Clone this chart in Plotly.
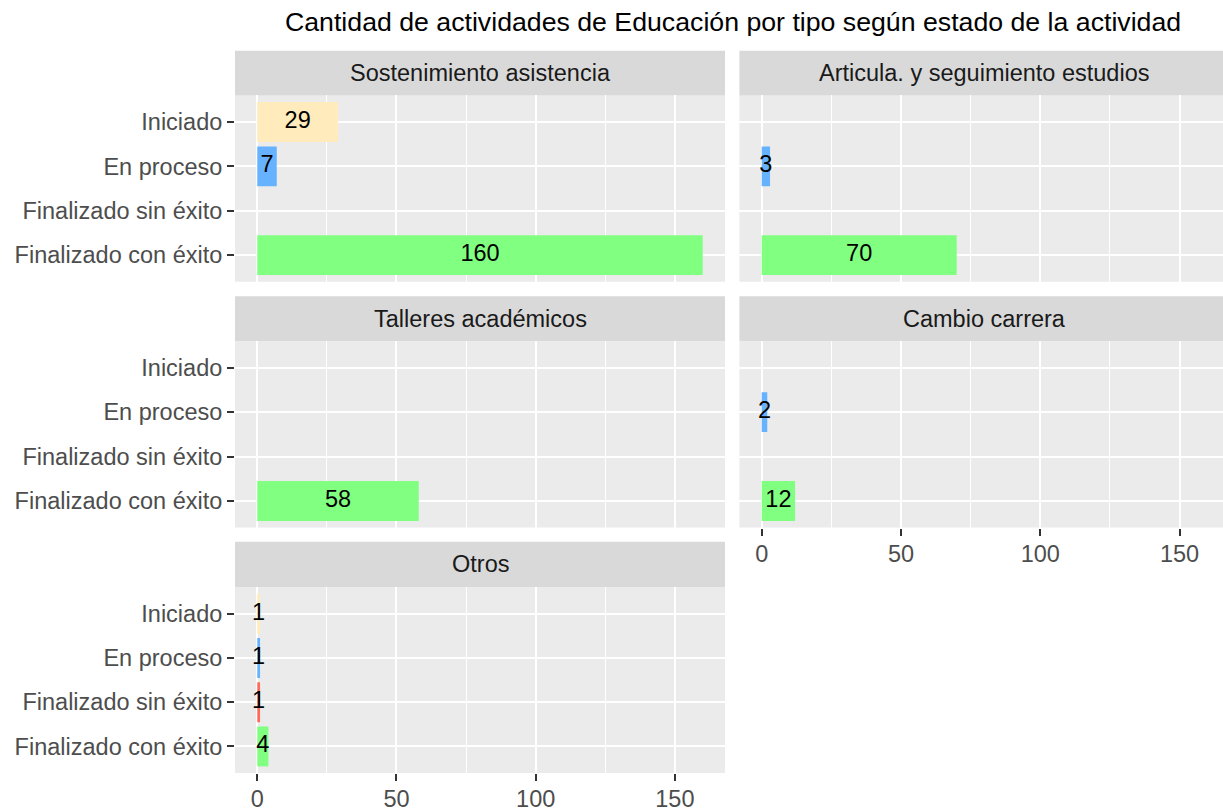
import plotly.graph_objects as go

W, H = 1223, 812

title = "Cantidad de actividades de Educación por tipo según estado de la actividad"
estados = ["Iniciado", "En proceso", "Finalizado sin éxito", "Finalizado con éxito"]
colores = {
    "Iniciado": "#FFEBBB",
    "En proceso": "#66B2FF",
    "Finalizado sin éxito": "#FF6B5B",
    "Finalizado con éxito": "#80FF80",
}

tipos = ["Sostenimiento asistencia", "Articula. y seguimiento estudios",
         "Talleres académicos", "Cambio carrera", "Otros"]

# values per type: (estado, cantidad)
sostenimiento_estado = ["Iniciado", "En proceso", "Finalizado con éxito"]
sostenimiento_n = [29, 7, 160]
articula_estado = ["En proceso", "Finalizado con éxito"]
articula_n = [3, 70]
talleres_estado = ["Finalizado con éxito"]
talleres_n = [58]
cambio_estado = ["En proceso", "Finalizado con éxito"]
cambio_n = [2, 12]
otros_estado = ["Iniciado", "En proceso", "Finalizado sin éxito", "Finalizado con éxito"]
otros_n = [1, 1, 1, 4]

data = [
    (sostenimiento_estado, sostenimiento_n),
    (articula_estado, articula_n),
    (talleres_estado, talleres_n),
    (cambio_estado, cambio_n),
    (otros_estado, otros_n),
]

x_ticks = [0, 50, 100, 150]

FONT = "Liberation Sans, Arial, Helvetica, sans-serif"
FS = 23.5

def px(x):
    return x / W

def py(y):
    return 1 - y / H

# panel geometry (pixels)
col_x = [(235.0, 725.0), (739.4, 1223.0)]
col_range = [[-8, 168], [-8, 165.6]]
rows = [(51, 96, 283.5), (298, 343.2, 530.8), (545, 590.9, 777.8)]  # strip top, panel top, panel bottom
positions = [(0, 0), (0, 1), (1, 0), (1, 1), (2, 0)]
bottom_panels = {3, 4}

fig = go.Figure()
layout = dict(
    width=W, height=H,
    margin=dict(l=0, r=0, t=0, b=0),
    paper_bgcolor="white",
    plot_bgcolor="#EBEBEB",
    showlegend=False,
    font=dict(family=FONT, size=FS, color="#4D4D4D"),
    shapes=[], annotations=[],
    bargap=0.1,
)

cat_order = list(reversed(estados))

for i, (tipo, (est, n)) in enumerate(zip(tipos, data)):
    r, c = positions[i]
    st_top, p_top, p_bot = rows[r]
    x0, x1 = col_x[c]
    k = "" if i == 0 else str(i + 1)
    xa, ya = "x" + k, "y" + k
    fig.add_trace(go.Bar(
        x=n, y=est, orientation="h",
        marker=dict(color=[colores[e] for e in est], line=dict(width=0)),
        width=0.9, xaxis=xa, yaxis=ya, hoverinfo="x+y",
    ))
    fig.add_trace(go.Scatter(
        x=[v / 2 for v in n], y=est, mode="text",
        text=[str(v) for v in n],
        textposition="middle center",
        textfont=dict(family=FONT, size=FS, color="black"),
        xaxis=xa, yaxis=ya, cliponaxis=False, hoverinfo="skip",
    ))
    layout["xaxis" + k] = dict(
        domain=[px(x0), px(x1)], anchor=ya, range=col_range[c],
        tickvals=x_ticks, showticklabels=(i in bottom_panels),
        ticks="outside" if i in bottom_panels else "", ticklen=7, tickwidth=2,
        tickcolor="#333333", showgrid=True, gridcolor="white", gridwidth=2.2,
        minor=dict(dtick=25, tick0=0, showgrid=True, gridcolor="white", gridwidth=1.1),
        zeroline=False, showline=False, fixedrange=True,
        ticklabelstandoff=-2,
        tickfont=dict(family=FONT, size=FS, color="#4D4D4D"),
    )
    layout["yaxis" + k] = dict(
        domain=[py(p_bot), py(p_top)], anchor=xa, type="category",
        categoryorder="array", categoryarray=cat_order, range=[-0.6, 3.6],
        showticklabels=(c == 0), ticks="outside" if c == 0 else "",
        ticklen=7, tickwidth=2, tickcolor="#333333",
        showgrid=True, gridcolor="white", gridwidth=2.2,
        zeroline=False, showline=False, fixedrange=True,
        tickfont=dict(family=FONT, size=FS, color="#4D4D4D"),
    )
    layout["shapes"].append(dict(
        type="rect", xref="paper", yref="paper",
        x0=px(x0), x1=px(x1), y0=py(p_top), y1=py(st_top),
        fillcolor="#D9D9D9", line=dict(width=0), layer="below",
    ))
    layout["annotations"].append(dict(
        text=tipo, xref="paper", yref="paper",
        x=px((x0 + x1) / 2) if c == 0 else px((739.4 + 1229.4) / 2),
        y=py((st_top + p_top) / 2),
        xanchor="center", yanchor="middle", showarrow=False,
        font=dict(family=FONT, size=FS, color="#1A1A1A"),
    ))

layout["annotations"].append(dict(
    text=title, xref="paper", yref="paper",
    x=px(733), y=py(22), xanchor="center", yanchor="middle", showarrow=False,
    font=dict(family=FONT, size=26.7, color="black"),
))

fig.update_layout(**layout)
fig.write_html(
    "out.html",
    config={"displayModeBar": False},
    post_script="document.body.style.margin='0';document.body.style.padding='0';document.body.style.overflow='hidden';",
)
